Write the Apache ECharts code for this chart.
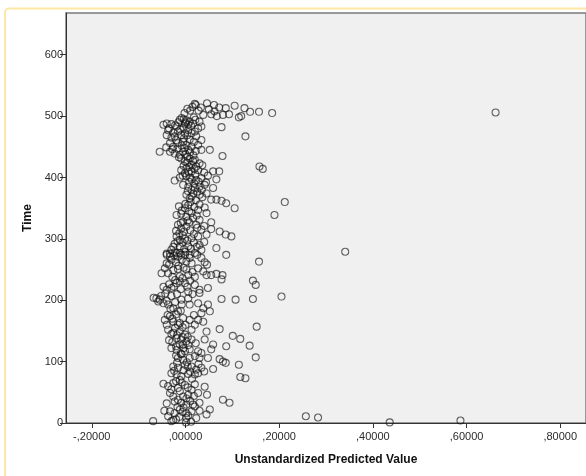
<!DOCTYPE html>
<html>
<head>
<meta charset="utf-8">
<style>
  html, body { margin: 0; padding: 0; background: #ffffff; }
  #chart { width: 586px; height: 476px; }
</style>
<script src="https://cdn.jsdelivr.net/npm/echarts@6/dist/echarts.min.js"></script>
</head>
<body>
<div id="chart"></div>
<script>
// Axis titles and tick positions
const xTitle = 'Unstandardized Predicted Value';
const yTitle = 'Time';
const xTicks = [-0.2, 0, 0.2, 0.4, 0.6, 0.8];
const yTicks = [0, 100, 200, 300, 400, 500, 600];

// [predicted value, time] pairs, upper part of the cloud (time above ~270)
const upperPoints = [
  [0.020,520],[0.022,518],[0.046,521],[0.061,518],[0.072,514],[0.086,513],[0.105,517],[0.126,513],
  [0.138,507],[0.157,507],[0.038,502],[0.055,503],[0.067,500],[0.080,502],[0.093,503],[0.114,498],
  [0.119,500],[0.077,482],[0.128,467],
  [-0.047,486],[-0.040,488],[-0.030,487],[-0.019,483],[-0.012,494],[-0.004,495],[0.002,493],[-0.001,488],
  [0.009,491],[0.016,488],[0.030,491],[0.034,483],[0.027,480],[-0.040,469],[-0.026,473],[-0.023,467],
  [-0.016,475],[-0.009,469],[-0.001,472],[0.006,477],[0.013,472],[0.023,467],[0.034,461],[-0.033,456],
  [-0.026,450],[-0.016,456],[-0.005,458],[0.002,453],[0.013,450],[0.027,453],[0.034,445],[0.052,445],
  [-0.055,442],[-0.033,442],[-0.023,439],[-0.012,437],[-0.005,442],[0.006,445],[0.079,435],
  [-0.009,431],[-0.001,426],[0.009,431],[0.020,429],[0.013,421],[0.023,418],[0.002,415],[-0.009,412],
  [-0.001,407],[0.013,410],[0.027,412],[-0.023,395],[-0.012,400],[0.002,402],[0.013,397],[0.023,396],
  [0.034,399],[0.048,403],[0.059,410],[0.072,410],[0.066,397],[0.006,385],[0.013,380],[0.020,383],
  [0.030,385],[0.041,388],[0.059,383],[0.002,372],[0.013,369],[0.030,372],[0.045,374],[0.055,364],
  [0.066,364],[0.077,362],[0.087,358],[0.105,350],[0.158,418],[0.165,414],
  [0.006,355],[-0.001,350],[-0.019,339],[-0.009,341],[0.002,336],[0.013,342],[0.027,347],[0.016,334],
  [0.030,331],[0.055,327],[-0.005,328],[-0.016,323],[-0.009,317],[0.002,320],[0.023,323],[0.034,315],
  [0.045,307],[0.073,312],[0.086,307],[0.098,304],[-0.019,304],[-0.012,298],[-0.001,300],[0.013,301],
  [0.027,304],[-0.023,292],[-0.012,288],[0.006,288],[0.030,290],[0.066,285],[-0.030,282],[-0.019,277],
  [-0.009,274],[0.009,274],[0.020,277],[0.034,282],[-0.040,276],[-0.033,271],[-0.016,271],[0.087,274]
];

// [predicted value, time] pairs, lower part of the cloud (time below ~270)
const lowerPoints = [
  [-0.040,274],[-0.033,276],[-0.023,278],[-0.012,277],[-0.001,274],[0.009,269],[0.002,263],[0.013,260],
  [0.025,274],[0.034,269],[0.041,262],[0.046,258],[0.157,263],
  [-0.044,252],[-0.051,244],[-0.037,244],[-0.026,249],[-0.016,251],[-0.012,239],[0.002,250],[0.006,241],
  [0.027,252],[0.038,247],[0.045,241],[0.055,241],[0.066,243],[0.079,241],[0.077,234],[0.144,232],
  [0.150,225],[-0.047,222],[-0.040,217],[-0.030,220],[-0.019,228],[-0.012,231],[-0.001,228],[0.006,214],
  [0.020,225],[0.030,217],[0.048,220],[0.030,212],[-0.062,203],[-0.055,201],[-0.047,195],[-0.037,193],
  [-0.026,187],[-0.016,182],[-0.009,201],[0.006,203],[0.009,193],[0.027,195],[0.038,187],[0.048,193],
  [0.034,179],[0.052,182],[0.077,202],[0.107,201],[0.144,202],
  [-0.044,168],[-0.033,174],[-0.026,165],[-0.016,160],[-0.005,171],[0.009,168],[0.027,168],[0.038,165],
  [-0.037,152],[-0.026,147],[-0.012,149],[-0.001,144],[0.013,152],[0.045,149],[0.073,153],[0.101,142],
  [0.117,137],[0.152,157],[-0.019,138],[-0.009,136],[0.002,133],[0.013,136],[0.041,136],[0.059,128],
  [-0.005,128],[0.055,120],[-0.030,122],[-0.019,119],[-0.001,117],[0.009,120],[0.027,117],[0.034,114],
  [0.087,125],[0.137,126],[-0.016,106],[-0.005,103],[0.009,106],[0.020,109],[0.030,106],[0.048,106],
  [0.073,104],[0.080,100],[0.086,98],[0.150,107],
  [-0.026,92],[-0.016,90],[-0.001,95],[0.013,92],[0.023,87],[0.034,90],[0.059,88],[0.114,95],
  [-0.030,81],[-0.019,79],[-0.009,76],[0.006,80],[0.020,79],[0.027,81],[0.117,75],[0.128,73],
  [-0.047,64],[-0.037,60],[-0.026,65],[-0.016,57],[-0.001,62],[0.013,54],[0.027,49],[0.041,59],
  [0.046,46],[-0.033,49],[-0.026,43],[-0.005,43],[0.006,46],[0.080,38],[0.094,33],
  [-0.023,35],[-0.009,33],[0.002,30],[0.016,30],[0.030,33],[0.052,22],[-0.033,19],[-0.023,16],
  [-0.012,22],[0.002,16],[0.013,19],[0.020,27],[0.045,14],[0.023,8],[-0.037,11],[-0.026,5],
  [0.002,8],[-0.069,3],[-0.030,3]
];

// Overlapping cases packed in the dense central band
const corePoints = [
  [0.004,512],[0.010,509],[-0.002,505],[0.015,515],[0.028,509],[0.033,514],[0.050,511],[0.062,508],
  [-0.008,497],[0.000,490],[0.006,486],[-0.015,490],[-0.022,485],[0.012,484],[-0.004,481],[0.021,494],
  [-0.035,480],[0.018,498],
  [-0.011,478],[-0.003,464],[0.004,469],[-0.020,461],[0.009,462],[-0.030,465],[0.018,458],[-0.008,452],
  [0.020,475],[-0.037,477],
  [-0.017,447],[-0.002,448],[0.010,441],[-0.028,446],[0.017,436],[0.000,438],[-0.041,449],[0.022,443],
  [-0.014,433],[0.004,434],
  [0.004,424],[0.016,427],[0.030,423],[-0.004,419],[0.008,417],[0.019,414],[0.036,420],[0.007,409],
  [0.021,405],[-0.006,403],[0.040,408],[0.010,400],
  [0.008,393],[0.019,390],[0.028,393],[0.005,378],[0.025,377],[0.035,380],[-0.005,388],[0.017,374],
  [0.044,392],[0.009,366],[0.022,363],[0.036,368],
  [0.011,360],[0.000,357],[0.019,352],[-0.008,346],[0.008,345],[0.030,356],[0.041,351],[-0.014,353],
  [0.024,338],[0.005,330],[0.045,342],
  [-0.010,326],[0.008,327],[-0.003,312],[0.010,314],[-0.020,313],[0.018,308],[-0.006,306],[0.025,318],
  [-0.013,309],[0.040,321],[0.055,316],
  [-0.017,296],[-0.006,294],[0.004,297],[0.018,294],[-0.026,287],[-0.003,283],[0.012,284],[0.000,279],
  [-0.024,273],[0.024,287],[0.040,295],
  [-0.030,266],[-0.020,262],[-0.008,266],[-0.035,258],[-0.015,256],[-0.004,253],[0.015,246],[-0.028,238],
  [-0.006,236],[0.010,232],[-0.022,233],[0.020,238],[-0.040,260],
  [-0.035,226],[-0.025,222],[-0.010,218],[-0.043,211],[-0.030,207],[-0.018,210],[-0.052,207],[-0.068,204],
  [-0.058,198],[-0.040,199],[-0.022,197],[-0.008,193],[0.015,210],[0.004,222],
  [-0.032,186],[-0.020,177],[-0.010,183],[-0.038,176],[-0.028,170],[-0.012,163],[0.000,160],[-0.040,160],
  [-0.022,155],[-0.006,156],[0.018,176],[0.020,160],
  [-0.030,145],[-0.018,143],[-0.006,140],[-0.028,132],[-0.012,128],[0.006,127],[-0.020,125],[-0.004,122],
  [-0.035,135],[0.022,130],[0.005,140],[-0.010,113],
  [-0.020,110],[-0.008,112],[0.003,99],[-0.018,98],[-0.004,86],[0.010,84],[-0.024,85],[0.005,92],
  [0.028,96],[-0.012,70],[0.014,72],[0.040,84],
  [-0.020,68],[-0.008,66],[0.005,58],[-0.030,55],[-0.012,52],[0.020,63],[0.002,40],[-0.016,38],
  [0.018,44],[-0.040,32],[-0.004,25],[0.010,36],
  [-0.017,26],[-0.006,18],[0.006,12],[-0.013,10],[0.012,2],[-0.020,6],[0.030,20],[0.001,1],[-0.045,20]
];

// Isolated cases far from the main cloud
const outlierPoints = [
  [0.662,506],[0.185,505],[0.212,360],[0.190,339],[0.341,279],[0.205,206],
  [0.257,11],[0.283,9],[0.436,1],[0.587,4]
];

function formatComma(v) {
  const s = Math.abs(v).toFixed(5).replace(/^0\./, ',');
  return (v < -1e-9 ? '-' : '') + s;
}

const labelFont = { fontFamily: 'Liberation Sans, Arial, sans-serif', fontSize: 11, color: '#2b2b2b' };
const titleFont = { fontFamily: 'Liberation Sans, Arial, sans-serif', fontSize: 12, fontWeight: 'bold', color: '#111' };

const chart = echarts.init(document.getElementById('chart'), null, { renderer: 'canvas' });
chart.setOption({
  backgroundColor: '#ffffff',
  animation: false,
  graphic: [{
    type: 'rect',
    silent: true,
    z: -10,
    shape: { x: 5, y: 8.5, width: 640, height: 520, r: 4 },
    style: { fill: 'none', stroke: '#fce8a4', lineWidth: 2 }
  }],
  grid: {
    left: 66, top: 13, right: -2, bottom: 53,
    show: true,
    backgroundColor: '#f0f0f0',
    borderColor: '#7a7a7a',
    borderWidth: 1.5
  },
  xAxis: {
    type: 'value',
    min: -0.255, max: 0.855,
    name: xTitle,
    nameLocation: 'middle',
    nameGap: 31,
    nameTextStyle: titleFont,
    splitLine: { show: false },
    axisLine: { show: true, onZero: false, lineStyle: { color: '#333', width: 1 } },
    axisTick: { show: true, length: 5, lineStyle: { color: '#333' }, customValues: xTicks },
    axisLabel: Object.assign({ margin: 8, formatter: formatComma, customValues: xTicks }, labelFont)
  },
  yAxis: {
    type: 'value',
    min: 0, max: 668,
    name: yTitle,
    nameLocation: 'middle',
    nameGap: 32,
    nameRotate: 90,
    nameTextStyle: titleFont,
    splitLine: { show: false },
    axisLine: { show: true, onZero: false, lineStyle: { color: '#333', width: 1 } },
    axisTick: { show: true, length: 6, lineStyle: { color: '#333' }, customValues: yTicks },
    axisLabel: Object.assign({ margin: 3, customValues: yTicks }, labelFont)
  },
  series: [upperPoints, lowerPoints, corePoints, outlierPoints].map(function (pts) {
    return {
      type: 'scatter',
      data: pts,
      symbol: 'circle',
      symbolSize: 7,
      itemStyle: { color: 'rgba(0,0,0,0)', borderColor: 'rgba(15,15,15,0.8)', borderWidth: 1.1 },
      emphasis: { disabled: true }
    };
  })
});
</script>
</body>
</html>
